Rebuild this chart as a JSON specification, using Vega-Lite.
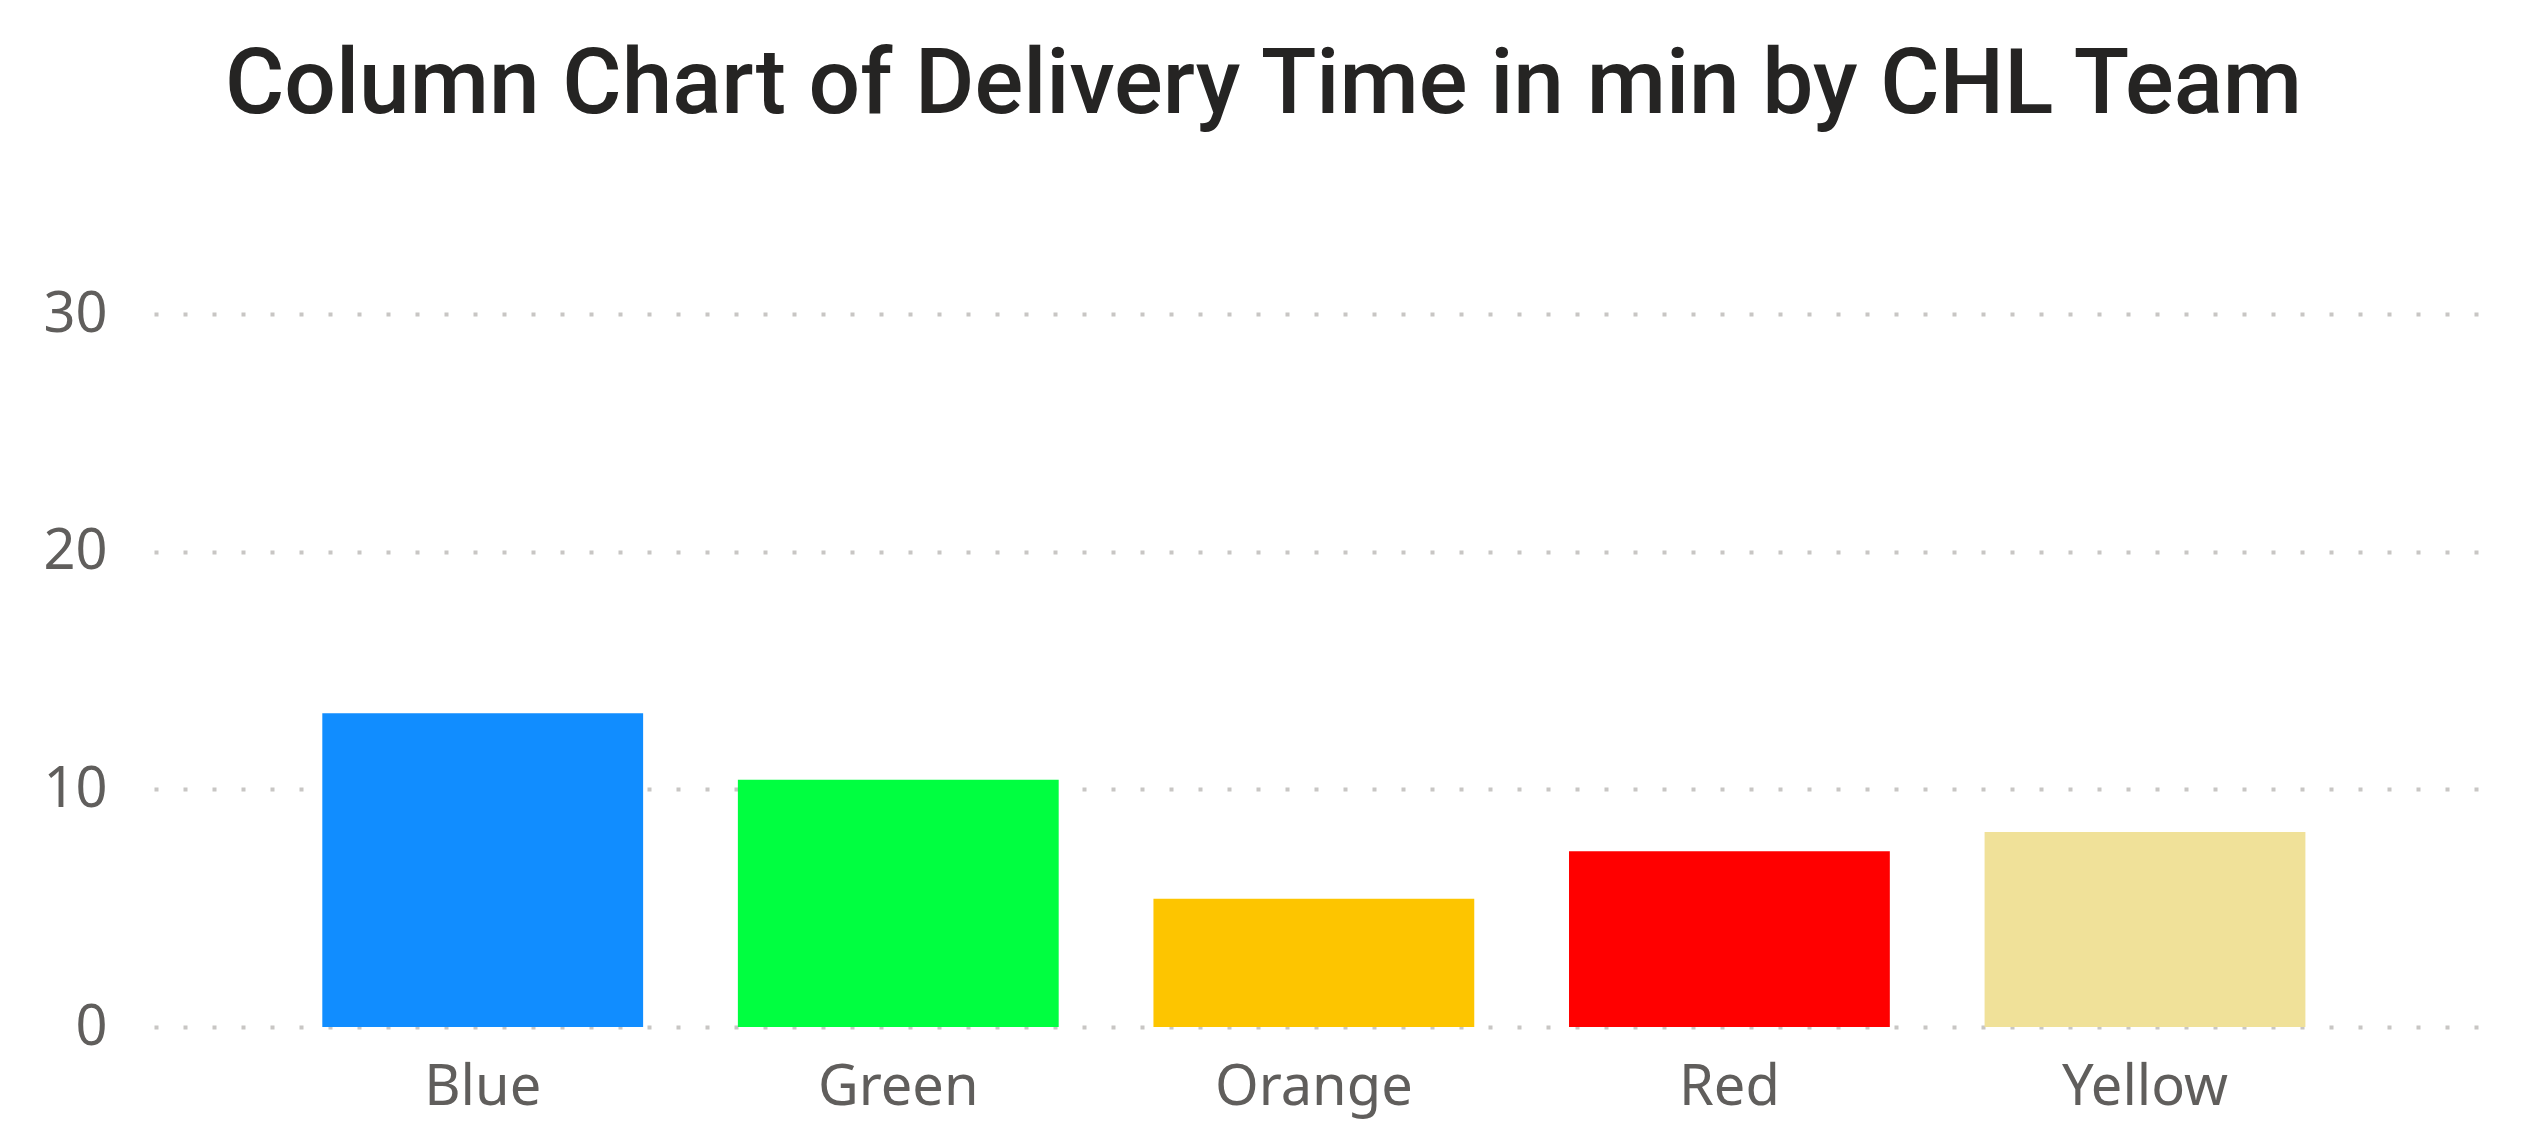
{
  "$schema": "https://vega.github.io/schema/vega-lite/v6.json",
  "width": 2333,
  "height": 713,
  "autosize": "none",
  "padding": {"left": 154, "top": 314, "right": 53, "bottom": 116},
  "background": "white",
  "title": {
    "text": "Column Chart of Delivery Time in min by CHL Team",
    "font": "Roboto",
    "fontSize": 91,
    "fontWeight": 500,
    "color": "#252423",
    "anchor": "middle",
    "dx": -57,
    "offset": 154
  },
  "data": {
    "values": [
      {"team": "Blue", "minutes": 13.2},
      {"team": "Green", "minutes": 10.4},
      {"team": "Orange", "minutes": 5.4},
      {"team": "Red", "minutes": 7.4},
      {"team": "Yellow", "minutes": 8.2}
    ]
  },
  "mark": {"type": "bar"},
  "encoding": {
    "x": {
      "field": "team",
      "type": "nominal",
      "title": null,
      "sort": null,
      "scale": {"paddingInner": 0.228, "paddingOuter": 0.421, "align": 0.481},
      "axis": {"labelAngle": 0, "ticks": false, "domain": false, "labelPadding": 33, "labelLimit": 0}
    },
    "y": {
      "field": "minutes",
      "type": "quantitative",
      "title": null,
      "scale": {"domain": [0, 30], "nice": false},
      "axis": {"values": [0, 10, 20, 30], "ticks": false, "domain": false, "labelPadding": 47}
    },
    "color": {
      "field": "team",
      "type": "nominal",
      "legend": null,
      "scale": {
        "domain": ["Blue", "Green", "Orange", "Red", "Yellow"],
        "range": ["#118DFF", "#00FF40", "#FDC500", "#FF0000", "#F0E199"]
      }
    }
  },
  "config": {
    "view": {"stroke": null},
    "axis": {
      "labelFont": "Noto Sans",
      "labelFontSize": 56,
      "labelColor": "#605E5C",
      "grid": false
    },
    "axisY": {
      "grid": true,
      "gridColor": "#C8C6C4",
      "gridWidth": 4,
      "gridDash": [4, 25]
    }
  }
}
